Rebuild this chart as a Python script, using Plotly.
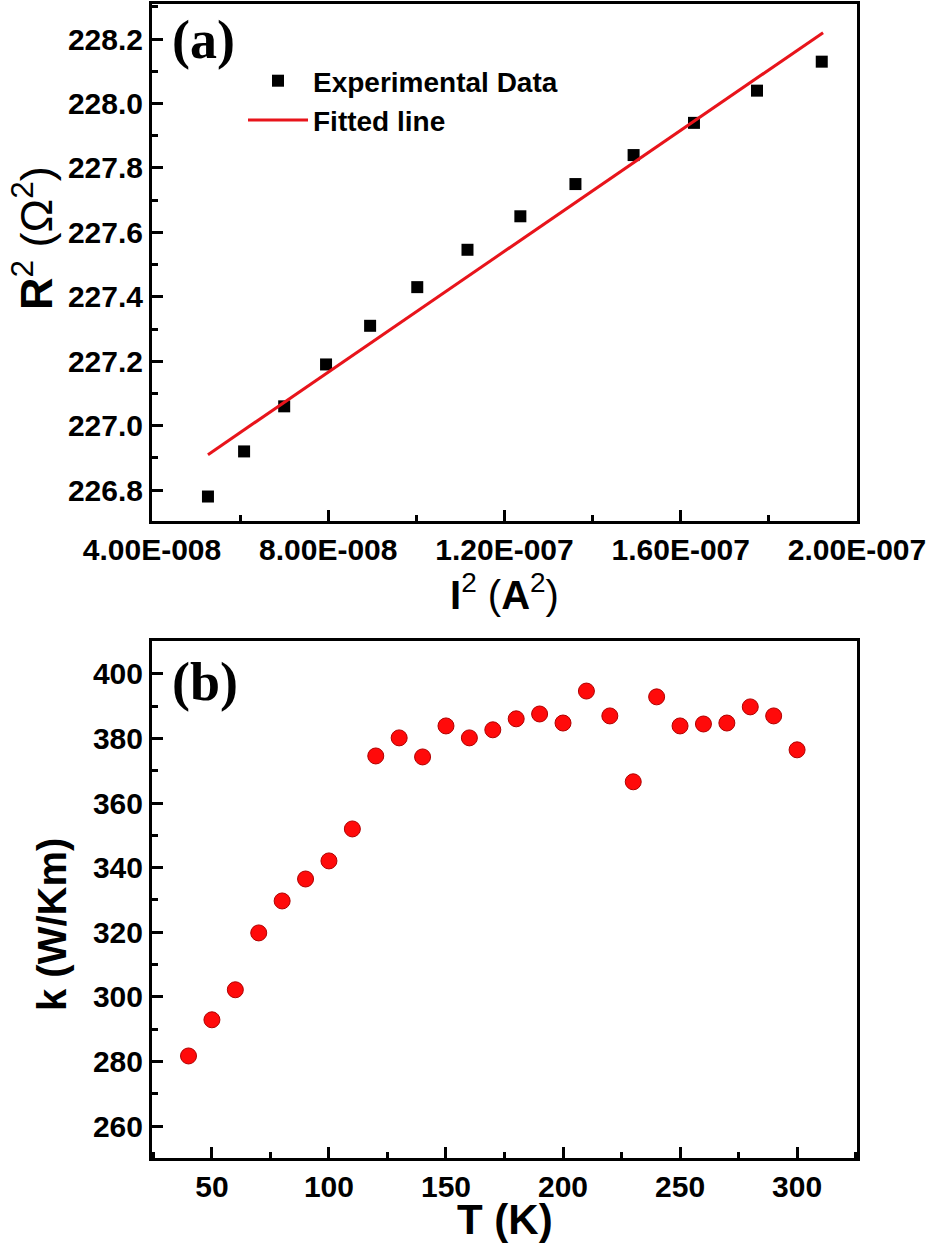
import plotly.graph_objects as go

# --- data ---
# (a) R^2 vs I^2
i2_exp = [5.27e-8, 6.09e-8, 7.00e-8, 7.95e-8, 8.95e-8, 1.002e-7, 1.116e-7,
          1.236e-7, 1.361e-7, 1.493e-7, 1.630e-7, 1.773e-7, 1.920e-7]
r2_exp = [226.78, 226.92, 227.06, 227.19, 227.31, 227.43, 227.546,
          227.65, 227.75, 227.84, 227.94, 228.04, 228.13]
i2_fit = [5.27e-8, 1.923e-7]
r2_fit = [226.91, 228.22]

xa_tickvals = [4e-8, 8e-8, 1.2e-7, 1.6e-7, 2e-7]
xa_ticktext = ["4.00E-008", "8.00E-008", "1.20E-007", "1.60E-007", "2.00E-007"]

# (b) k vs T
temp_k = [40, 50, 60, 70, 80, 90, 100, 110, 120, 130, 140, 150, 160, 170,
          180, 190, 200, 210, 220, 230, 240, 250, 260, 270, 280, 290, 300]
k_cond = [281.7, 292.9, 302.2, 319.8, 329.7, 336.5, 342.1, 352.0, 374.6,
          380.2, 374.3, 383.9, 380.2, 382.7, 386.1, 387.6, 384.8, 394.7,
          387.0, 366.6, 392.9, 383.9, 384.5, 384.8, 389.8, 387.0, 376.5]

W, H = 930, 1245


def px(x):
    return x / W


def py(y):
    return 1 - y / H


fig = go.Figure()

fig.add_trace(go.Scatter(
    x=i2_exp, y=r2_exp, mode="markers", name="Experimental Data",
    marker=dict(symbol="square", size=12, color="black"),
    xaxis="x", yaxis="y"
))
fig.add_trace(go.Scatter(
    x=i2_fit, y=r2_fit, mode="lines", name="Fitted line",
    line=dict(color="#e8141b", width=3),
    xaxis="x", yaxis="y"
))
fig.add_trace(go.Scatter(
    x=temp_k, y=k_cond, mode="markers", showlegend=False,
    marker=dict(symbol="circle", size=16, color="#ff0a0a",
                line=dict(color="#b00000", width=1)),
    xaxis="x2", yaxis="y2"
))

tickfont = dict(family="Liberation Sans, Arial", size=30, color="black", weight="bold")
common = dict(
    showline=True, linecolor="black", linewidth=3, mirror=True,
    ticks="inside", ticklen=11, tickwidth=2.5, tickcolor="black",
    showgrid=False, zeroline=False, tickfont=tickfont, automargin=False,
)

fig.update_layout(
    width=W, height=H,
    margin=dict(l=0, r=0, t=0, b=0),
    paper_bgcolor="white", plot_bgcolor="white",
    font=dict(family="Liberation Sans, Arial", color="black"),
    xaxis=dict(domain=[px(152), px(857)], range=[4e-8, 2e-7],
               tickvals=xa_tickvals, ticktext=xa_ticktext, anchor="y",
               minor=dict(ticks="inside", ticklen=6, tickwidth=2.5,
                          tickcolor="black", dtick=2e-8), **common),
    yaxis=dict(domain=[py(521), py(4)], range=[226.704, 228.309],
               dtick=0.2, tickformat=".1f", anchor="x",
               minor=dict(ticks="inside", ticklen=6, tickwidth=2.5,
                          tickcolor="black", dtick=0.1), **common),
    xaxis2=dict(domain=[px(152), px(857)], range=[24.4, 325.6],
                dtick=50, anchor="y2",
                minor=dict(ticks="inside", ticklen=6, tickwidth=2.5,
                           tickcolor="black", dtick=25), **common),
    yaxis2=dict(domain=[py(1158), py(641)], range=[250.1, 410.2],
                dtick=20, anchor="x2",
                minor=dict(ticks="inside", ticklen=6, tickwidth=2.5,
                           tickcolor="black", dtick=10), **common),
    showlegend=True,
    legend=dict(x=px(243), y=py(56), xanchor="left", yanchor="top",
                bgcolor="rgba(0,0,0,0)", itemwidth=60,
                font=dict(family="Liberation Sans, Arial", size=28,
                          color="black", weight="bold")),
)

title_font = dict(family="Liberation Sans, Arial", size=40, color="black")
label_font = dict(family="Liberation Serif, Times New Roman", size=54,
                  color="black", weight="bold")

annotations = [
    dict(text="(a)", x=px(170), y=py(40), xanchor="left", yanchor="middle",
         font=label_font),
    dict(text="(b)", x=px(170), y=py(682), xanchor="left", yanchor="middle",
         font=label_font),
    dict(text="<b>R</b><sup>2</sup> (Ω<sup>2</sup>)", x=px(33), y=py(238),
         textangle=-90, xanchor="center", yanchor="middle",
         font=dict(title_font, size=45)),
    dict(text="<b>I</b><sup>2</sup> (<b>A</b><sup>2</sup>)", x=px(505), y=py(592),
         xanchor="center", yanchor="middle", font=title_font),
    dict(text="<b>k (W/Km)</b>", x=px(52), y=py(925), textangle=-90,
         xanchor="center", yanchor="middle", font=title_font),
    dict(text="<b>T (K)</b>", x=px(505), y=py(1219), xanchor="center",
         yanchor="middle", font=dict(title_font, size=42)),
]
for a in annotations:
    a.update(xref="paper", yref="paper", showarrow=False)
fig.update_layout(annotations=annotations)

# drop the browser's default body margin so the figure sits at the page corner
fig.write_html("out.html", config={"displayModeBar": False},
               post_script="document.body.style.margin='0px';")
